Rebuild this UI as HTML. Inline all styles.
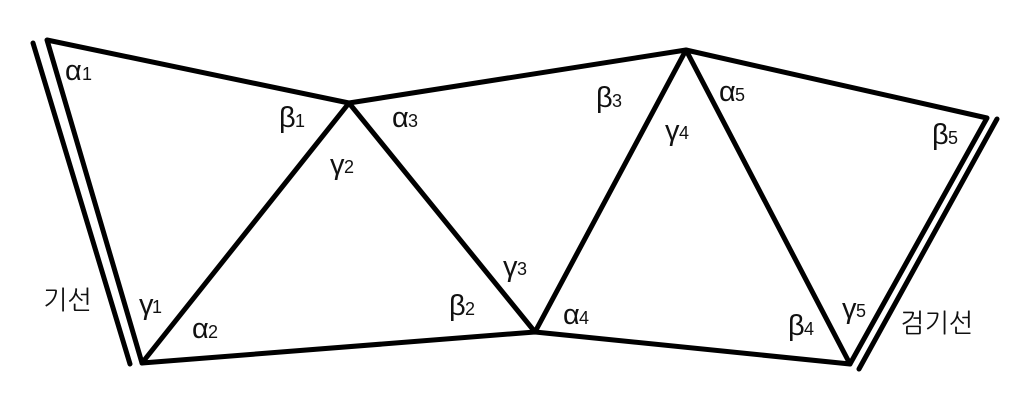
<!DOCTYPE html>
<html><head><meta charset="utf-8"><style>
html,body{margin:0;padding:0;background:#fff;width:1034px;height:418px;overflow:hidden}
svg{display:block}
text{font-family:"Liberation Sans","Noto Sans CJK KR",sans-serif;fill:#111}
.g{font-size:29px}
.s{font-size:18px}
.k{font-size:26px;font-family:"NanumGothic","Noto Sans CJK KR",sans-serif}
</style></head><body>
<svg width="1034" height="418" viewBox="0 0 1034 418" xmlns="http://www.w3.org/2000/svg">
<rect width="1034" height="418" fill="#fff"/>
<g fill="none" stroke="#000" stroke-width="5" stroke-linejoin="round" stroke-linecap="round">
<polyline points="142,363 47,40 349,103 686,50 987,118 850,364 535,332 142,363"/>
<polyline points="142,363 349,103 535,332 686,50 850,364"/>
<line x1="33" y1="43" x2="130" y2="364"/>
<line x1="997" y1="119" x2="859" y2="369"/>
</g>
<text class="g" x="65" y="80">α</text><text class="s" x="82" y="80">1</text>
<text class="g" x="279" y="127">β</text><text class="s" x="295" y="127">1</text>
<text class="g" x="330" y="174">γ</text><text class="s" x="344" y="173">2</text>
<text class="g" x="139" y="314">γ</text><text class="s" x="152" y="313">1</text>
<text class="g" x="192" y="338">α</text><text class="s" x="208" y="338">2</text>
<text class="g" x="392" y="127">α</text><text class="s" x="408" y="127">3</text>
<text class="g" x="449" y="315">β</text><text class="s" x="465" y="315">2</text>
<text class="g" x="503" y="276">γ</text><text class="s" x="517" y="275">3</text>
<text class="g" x="563" y="324">α</text><text class="s" x="579" y="324">4</text>
<text class="g" x="596" y="107">β</text><text class="s" x="612" y="107">3</text>
<text class="g" x="665" y="140">γ</text><text class="s" x="679" y="139">4</text>
<text class="g" x="719" y="101">α</text><text class="s" x="735" y="101">5</text>
<text class="g" x="788" y="335">β</text><text class="s" x="804" y="335">4</text>
<text class="g" x="842" y="318">γ</text><text class="s" x="856" y="317">5</text>
<text class="g" x="932" y="144">β</text><text class="s" x="948" y="144">5</text>
<text class="k" x="43" y="309">기선</text>
<text class="k" x="900" y="332">검기선</text>
</svg>
</body></html>
